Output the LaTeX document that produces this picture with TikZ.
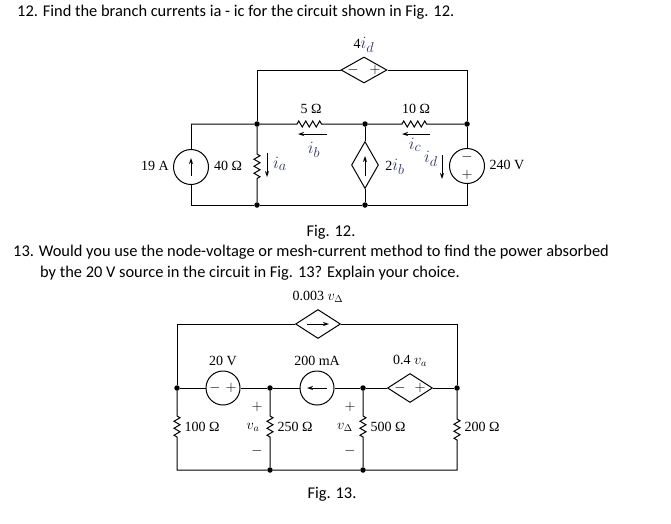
\documentclass[tikz,border=0pt]{standalone}
\usepackage{fontspec}
\setmainfont{Carlito}
\newfontfamily\circfont{Liberation Serif}
\usetikzlibrary{arrows.meta,shapes.geometric,decorations.pathmorphing}

\definecolor{curblue}{RGB}{45,55,100}
\tikzset{
    wire/.style={line width=1pt},
    dot/.style={circle,fill,inner sep=0pt,minimum size=5.5pt},
    src/.style={circle,draw,line width=1pt,minimum size=35pt,inner sep=0pt},
    dep/.style={diamond,draw,line width=1pt,inner sep=0pt,minimum width=46pt,minimum height=26pt},
    res/.style={decorate,decoration={zigzag,segment length=7pt,amplitude=3pt}},
    lab/.style={font=\circfont\fontsize{14}{16}\selectfont,inner sep=0.5pt},
    curlab/.style={font=\fontsize{19}{20}\selectfont,inner sep=0.5pt,text=curblue},
    cur/.style={-{Stealth[length=6pt,width=4pt]},line width=1pt},
    txt/.style={font=\fontsize{16.4}{19}\selectfont,inner sep=0pt},
}

\begin{document}
\begin{tikzpicture}[x=1pt,y=-1pt]
    \useasboundingbox (0,0) rectangle (671,523);

    % text
    \node[txt,anchor=west] (q12) at (17,12) {12. Find the branch currents ia - ic for the circuit shown in Fig. 12.};
    \node[txt] (fig12) at (331,232) {Fig. 12.};
    \node[txt,anchor=west] (q13) at (13,252) {13. Would you use the node-voltage or mesh-current method to find the power absorbed};
    \node[txt,anchor=west] (q13b) at (40,273) {by the 20 V source in the circuit in Fig. 13? Explain your choice.};
    \node[txt] (fig13) at (332,494) {Fig. 13.};

    % circuit 12
    \node[dep] (vd) at (364,70) {};
    \node[src] (s19) at (191,167) {};
    \node[src] (s240) at (467,166) {};
    \node[dep,minimum width=27pt,minimum height=47pt] (cd) at (365,165) {};
    \node[dot] (a) at (257,124) {}; \node[dot] (b) at (365,124) {}; \node[dot] (c) at (467,124) {};
    \node[dot] (d) at (257,205) {}; \node[dot] (e) at (365,205) {};
    \coordinate (tl) at (257,70); \coordinate (tr) at (467,70);
    \coordinate (ml) at (191,124); \coordinate (bl) at (191,205); \coordinate (br) at (467,205);
    \coordinate (r5a) at (297,124); \coordinate (r5b) at (322,124);
    \coordinate (r10a) at (402,124); \coordinate (r10b) at (427,124);
    \coordinate (r40a) at (257,154); \coordinate (r40b) at (257,179);

    \draw[wire] (vd.west) -- (tl) -- (a); \draw[wire] (vd.east) -- (tr) -- (c);
    \draw[wire] (ml) -- (a) -- (r5a) decorate[res] {-- (r5b)} -- (b) -- (r10a) decorate[res] {-- (r10b)} -- (c);
    \draw[wire] (s19.north) -- (ml); \draw[wire] (s19.south) -- (bl) -- (d) -- (e) -- (br) -- (s240.south);
    \draw[wire] (a) -- (r40a) decorate[res] {-- (r40b)} -- (d);
    \draw[wire] (b) -- (cd.north); \draw[wire] (cd.south) -- (e);
    \draw[wire] (c) -- (s240.north);

    \draw[cur] ([yshift=-9pt]s19.center) -- ([yshift=9pt]s19.center);
    \draw[cur] ([yshift=-11pt]cd.center) -- ([yshift=9pt]cd.center);
    \node[lab] (vdm) at ([xshift=-11pt]vd.center) {$-$}; \node[lab] (vdp) at ([xshift=11pt]vd.center) {$+$};
    \node[lab] (s240m) at ([yshift=9pt]s240.center) {$-$}; \node[lab] (s240p) at ([yshift=-9pt]s240.center) {$+$};

    \coordinate (ib1) at (327,134); \coordinate (ib2) at (298,134);
    \coordinate (ic1) at (430,134); \coordinate (ic2) at (402,134);
    \coordinate (ia1) at (267,153); \coordinate (ia2) at (267,177);
    \coordinate (id1) at (442,155); \coordinate (id2) at (442,179);
    \draw[cur] (ib1) -- (ib2); \draw[cur] (ic1) -- (ic2);
    \draw[cur] (ia1) -- (ia2); \draw[cur] (id1) -- (id2);

    \node[lab] (l4id) at (364,45) {4\textcolor{curblue}{\fontsize{19}{20}\selectfont$i_d$}};
    \node[lab] (l5) at (311,109) {5 Ω};
    \node[lab] (l10) at (416,109) {10 Ω};
    \node[curlab] (lib) at (314,150) {$i_b$};
    \node[curlab] (lic) at (415,145) {$i_c$};
    \node[lab] (l19) at (155,166) {19 A};
    \node[lab] (l40) at (228,166) {40 Ω};
    \node[curlab] (lia) at (280,164) {$i_a$};
    \node[lab] (l2ib) at (395,167) {2\textcolor{curblue}{\fontsize{19}{20}\selectfont$i_b$}};
    \node[curlab] (lid) at (431,159) {$i_d$};
    \node[lab] (l240) at (507,165) {240 V};

    % circuit 13
    \node[dep,minimum width=45pt,minimum height=29pt] (vc) at (318,324) {};
    \node[src,minimum size=34pt] (s20) at (223,388) {};
    \node[src,minimum size=34pt] (s200) at (317,388) {};
    \node[dep,minimum width=45pt,minimum height=29pt] (v04) at (410,388) {};
    \node[dot] (f) at (177,388) {}; \node[dot] (g) at (270,388) {};
    \node[dot] (h) at (363,388) {}; \node[dot] (k) at (457,388) {};
    \node[dot] (m) at (270,470) {}; \node[dot] (n) at (363,470) {};
    \coordinate (c2tl) at (177,324); \coordinate (c2tr) at (457,324);
    \coordinate (c2bl) at (177,470); \coordinate (c2br) at (457,470);
    \coordinate (r100a) at (177,416); \coordinate (r100b) at (177,440);
    \coordinate (r250a) at (270,416); \coordinate (r250b) at (270,440);
    \coordinate (r500a) at (363,416); \coordinate (r500b) at (363,440);
    \coordinate (r200a) at (457,416); \coordinate (r200b) at (457,440);

    \draw[wire] (f) -- (c2tl) -- (vc.west); \draw[wire] (vc.east) -- (c2tr) -- (k);
    \draw[wire] (f) -- (s20.west); \draw[wire] (s20.east) -- (g) -- (s200.west);
    \draw[wire] (s200.east) -- (h) -- (v04.west); \draw[wire] (v04.east) -- (k);
    \draw[wire] (f) -- (r100a) decorate[res] {-- (r100b)} -- (c2bl) -- (m) -- (n) -- (c2br) -- (r200b) decorate[res] {-- (r200a)} -- (k);
    \draw[wire] (g) -- (r250a) decorate[res] {-- (r250b)} -- (m);
    \draw[wire] (h) -- (r500a) decorate[res] {-- (r500b)} -- (n);

    \draw[cur] ([xshift=-11pt]vc.center) -- ([xshift=11pt]vc.center);
    \draw[cur] ([xshift=10pt]s200.center) -- ([xshift=-10pt]s200.center);
    \node[lab] (s20m) at ([xshift=-8pt]s20.center) {$-$}; \node[lab] (s20p) at ([xshift=8pt]s20.center) {$+$};
    \node[lab] (v04m) at ([xshift=-10pt]v04.center) {$-$}; \node[lab] (v04p) at ([xshift=10pt]v04.center) {$+$};

    \node[lab] (lvc) at (318,297) {0.003 $v_\Delta$};
    \node[lab] (l20) at (223,361) {20 V};
    \node[lab] (l200) at (317,361) {200 mA};
    \node[lab] (l04) at (410,361) {0.4 $v_a$};
    \node[lab,anchor=west] (l100) at (184,427) {100 Ω};
    \node[lab,anchor=west] (l250) at (277,427) {250 Ω};
    \node[lab,anchor=west] (l500) at (370,427) {500 Ω};
    \node[lab,anchor=west] (l200r) at (464,427) {200 Ω};
    \node[lab] (vap) at (257,407) {$+$}; \node[lab] (va) at (253,427) {$v_a$}; \node[lab] (vam) at (257,451) {$-$};
    \node[lab] (vdp2) at (350,407) {$+$}; \node[lab] (vdl) at (345,427) {$v_\Delta$}; \node[lab] (vdm2) at (350,451) {$-$};
\end{tikzpicture}
\end{document}
